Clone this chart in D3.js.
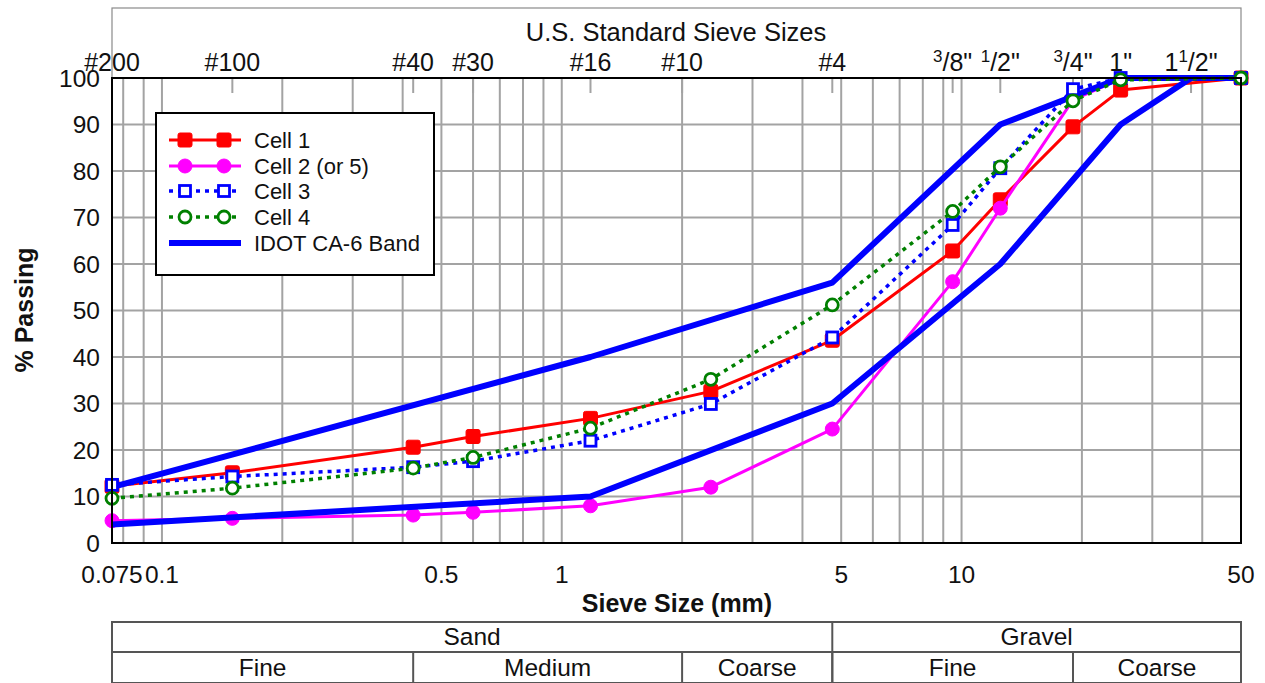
<!DOCTYPE html>
<html>
<head>
<meta charset="utf-8">
<script src="https://cdn.jsdelivr.net/npm/d3@7"></script>
<style>
  html, body { margin: 0; padding: 0; background: #fff; }
  svg { display: block; font-family: "Liberation Sans", Arial, sans-serif; }
</style>
</head>
<body>
<svg id="chart" width="1265" height="683"></svg>
<script>
// ---------- data ----------
const sieveSizes  = [0.075, 0.15, 0.425, 0.6, 1.18, 2.0, 4.75, 9.5, 12.5, 19, 25, 37.5];
const sieveLabels = ["#200", "#100", "#40", "#30", "#16", "#10", "#4", "3/8\"", "1/2\"", "3/4\"", "1\"", "1 1/2\""];

const dataSizes = [0.075, 0.15, 0.425, 0.6, 1.18, 2.36, 4.75, 9.5, 12.5, 19, 25, 50];
const cell1 = [12.2, 15.1, 20.6, 22.9, 26.8, 32.6, 43.6, 62.8, 73.8, 89.5, 97.4, 100];
const cell2 = [4.8, 5.3, 6.0, 6.6, 8.0, 12.0, 24.5, 56.2, 72.0, 95.3, 99.8, 100];
const cell3 = [12.5, 14.3, 16.3, 17.6, 22.0, 29.9, 44.2, 68.4, 80.6, 97.6, 100, 100];
const cell4 = [9.6, 11.8, 16.1, 18.4, 24.7, 35.2, 51.2, 71.3, 80.9, 95.1, 99.6, 100];

const bandUpperSizes = [0.075, 1.18, 4.75, 12.5, 25, 50];
const bandUpper      = [12, 40, 56, 90, 100, 100];
const bandLowerSizes = [0.075, 1.18, 4.75, 12.5, 25, 37.5, 50];
const bandLower      = [4, 10, 30, 60, 90, 100, 100];

const xTickValues = [0.075, 0.1, 0.5, 1, 5, 10, 50];
const yTickValues = [0, 10, 20, 30, 40, 50, 60, 70, 80, 90, 100];

const seriesNames = ["Cell 1", "Cell 2 (or 5)", "Cell 3", "Cell 4", "IDOT CA-6 Band"];

const soilTop = [
  {name: "Sand", from: 0.075, to: 4.75},
  {name: "Gravel", from: 4.75, to: 50}
];
const soilBottom = [
  {name: "Fine", from: 0.075, to: 0.425},
  {name: "Medium", from: 0.425, to: 2.0},
  {name: "Coarse", from: 2.0, to: 4.75},
  {name: "Fine", from: 4.75, to: 19},
  {name: "Coarse", from: 19, to: 50}
];

// ---------- layout ----------
const L = 112, R = 1241, T = 78, B = 543;
const svg = d3.select("#chart");

const x = d3.scaleLog().domain([0.075, 50]).range([L, R]);
const y = d3.scaleLinear().domain([0, 100]).range([B, T]);

// outer frame
svg.append("rect").attr("x", L).attr("y", 8).attr("width", R - L).attr("height", B - 8)
  .attr("fill", "none").attr("stroke", "#8a8a8a").attr("stroke-width", 1.2);

// grid
const gridX = [];
[0.01, 0.1, 1, 10].forEach(d => { for (let k = 1; k < 10; k++) { const v = +(d * k).toPrecision(3); if (v > 0.075 && v < 50) gridX.push(v); } });
const grid = svg.append("g").attr("stroke", "#a3a3a3").attr("stroke-width", 2);
grid.selectAll("line.v").data(gridX).join("line").attr("class", "v")
  .attr("x1", d => x(d)).attr("x2", d => x(d)).attr("y1", T).attr("y2", B);
grid.selectAll("line.h").data(yTickValues.filter(v => v > 0 && v < 100)).join("line").attr("class", "h")
  .attr("x1", L).attr("x2", R).attr("y1", d => y(d)).attr("y2", d => y(d));

// top sieve ticks
svg.append("g").attr("stroke", "#a3a3a3").attr("stroke-width", 2)
  .selectAll("line").data(sieveSizes).join("line")
  .attr("x1", d => x(d)).attr("x2", d => x(d)).attr("y1", T).attr("y2", T + 15);

// ---------- series ----------
function drawSeries(sizes, values, opts) {
  const pts = sizes.map((s, i) => [x(s), y(values[i])]);
  const g = svg.append("g");
  g.append("path").attr("d", d3.line()(pts)).attr("fill", "none")
    .attr("stroke", opts.color).attr("stroke-width", opts.width)
    .attr("stroke-dasharray", opts.dash || null).attr("stroke-linejoin", "round");
  if (opts.marker) pts.forEach(p => drawMarker(g, p[0], p[1], opts));
  return g;
}
function drawMarker(g, cx, cy, opts) {
  const s = opts.size;
  if (opts.marker === "square") {
    g.append("rect").attr("x", cx - s / 2).attr("y", cy - s / 2).attr("width", s).attr("height", s)
      .attr("rx", opts.filled ? 2 : 0)
      .attr("fill", opts.filled ? opts.color : "#fff").attr("stroke", opts.color)
      .attr("stroke-width", opts.filled ? 1 : 2.8);
  } else if (opts.marker === "circle") {
    g.append("circle").attr("cx", cx).attr("cy", cy).attr("r", s / 2)
      .attr("fill", opts.filled ? opts.color : "#fff").attr("stroke", opts.color)
      .attr("stroke-width", opts.filled ? 1 : 2.8);
  }
}

const styles = [
  {color: "#ff0000", width: 3, marker: "square", filled: true, size: 14},
  {color: "#ff00ff", width: 3, marker: "circle", filled: true, size: 14},
  {color: "#0000ff", width: 3.5, dash: "4,5", marker: "square", filled: false, size: 11},
  {color: "#008000", width: 3.5, dash: "4,5", marker: "circle", filled: false, size: 12},
  {color: "#0000ff", width: 6}
];

drawSeries(dataSizes, cell1, styles[0]);
drawSeries(dataSizes, cell2, styles[1]);
drawSeries(bandUpperSizes, bandUpper, styles[4]);
drawSeries(bandLowerSizes, bandLower, styles[4]);
drawSeries(dataSizes, cell3, styles[2]);
drawSeries(dataSizes, cell4, styles[3]);

// plot border
svg.append("rect").attr("x", L).attr("y", T).attr("width", R - L).attr("height", B - T)
  .attr("fill", "none").attr("stroke", "#000").attr("stroke-width", 2);

// ---------- axes text ----------
svg.append("g").selectAll("text").data(yTickValues).join("text")
  .attr("x", 100).attr("y", d => y(d)).attr("dy", "0.36em")
  .attr("text-anchor", "end").attr("font-size", 24.5).attr("fill", "#111").text(d => d);

svg.append("g").selectAll("text").data(xTickValues).join("text")
  .attr("x", d => x(d)).attr("y", 583)
  .attr("text-anchor", "middle").attr("font-size", 24.5).attr("fill", "#111")
  .text(d => d3.format("~g")(d));

const topG = svg.append("g").attr("font-size", 25).attr("fill", "#111");
sieveLabels.forEach((lab, i) => {
  const t = topG.append("text").attr("x", x(sieveSizes[i])).attr("y", 71).attr("text-anchor", "middle");
  const m = lab.match(/^(\d+ )?(\d+)\/(.+)$/);
  if (m) {
    if (m[1]) t.append("tspan").text(m[1].trim());
    t.append("tspan").attr("font-size", 17).attr("dy", -9).text(m[2]);
    t.append("tspan").attr("dy", 9).text("/" + m[3]);
  } else {
    t.text(lab);
  }
});

svg.append("text").attr("x", 676).attr("y", 41).attr("text-anchor", "middle")
  .attr("font-size", 25.5).attr("fill", "#111").text("U.S. Standard Sieve Sizes");
svg.append("text").attr("x", 677).attr("y", 612).attr("text-anchor", "middle")
  .attr("font-size", 25).attr("font-weight", "bold").attr("fill", "#111").text("Sieve Size (mm)");
svg.append("text").attr("transform", "translate(33,310) rotate(-90)").attr("text-anchor", "middle")
  .attr("font-size", 25).attr("font-weight", "bold").attr("fill", "#111").text("% Passing");

// ---------- legend ----------
const lg = svg.append("g");
lg.append("rect").attr("x", 156).attr("y", 113).attr("width", 278).attr("height", 162)
  .attr("fill", "#fff").attr("stroke", "#000").attr("stroke-width", 2);
const legY = [140, 166, 191, 217, 243];
seriesNames.forEach((name, i) => {
  const st = styles[i];
  const yy = legY[i];
  lg.append("line").attr("x1", 169).attr("x2", 241).attr("y1", yy).attr("y2", yy)
    .attr("stroke", st.color).attr("stroke-width", st.width).attr("stroke-dasharray", st.dash || null);
  if (st.marker) {
    drawMarker(lg, 185, yy, st);
    drawMarker(lg, 224, yy, st);
  }
  lg.append("text").attr("x", 254).attr("y", yy).attr("dy", "0.36em")
    .attr("font-size", 22).attr("fill", "#111").text(name);
});

// ---------- soil classification table ----------
const tb = svg.append("g");
const tTop = 622, tMid = 652, tBot = 683;
tb.append("rect").attr("x", L).attr("y", tTop).attr("width", R - L).attr("height", tBot - tTop)
  .attr("fill", "none").attr("stroke", "#555").attr("stroke-width", 2);
tb.append("line").attr("x1", L).attr("x2", R).attr("y1", tMid).attr("y2", tMid)
  .attr("stroke", "#555").attr("stroke-width", 2);
tb.selectAll("line.top").data(soilTop.slice(1)).join("line").attr("class", "top")
  .attr("x1", d => x(d.from)).attr("x2", d => x(d.from)).attr("y1", tTop).attr("y2", tBot)
  .attr("stroke", "#555").attr("stroke-width", 2);
tb.selectAll("line.bot").data(soilBottom.slice(1)).join("line").attr("class", "bot")
  .attr("x1", d => x(d.from)).attr("x2", d => x(d.from)).attr("y1", tMid).attr("y2", tBot)
  .attr("stroke", "#555").attr("stroke-width", 2);
tb.selectAll("text.top").data(soilTop).join("text").attr("class", "top")
  .attr("x", d => (x(d.from) + x(d.to)) / 2).attr("y", 645).attr("text-anchor", "middle")
  .attr("font-size", 24.5).attr("fill", "#111").text(d => d.name);
tb.selectAll("text.bot").data(soilBottom).join("text").attr("class", "bot")
  .attr("x", d => (x(d.from) + x(d.to)) / 2).attr("y", 676).attr("text-anchor", "middle")
  .attr("font-size", 24.5).attr("fill", "#111").text(d => d.name);
</script>
</body>
</html>
